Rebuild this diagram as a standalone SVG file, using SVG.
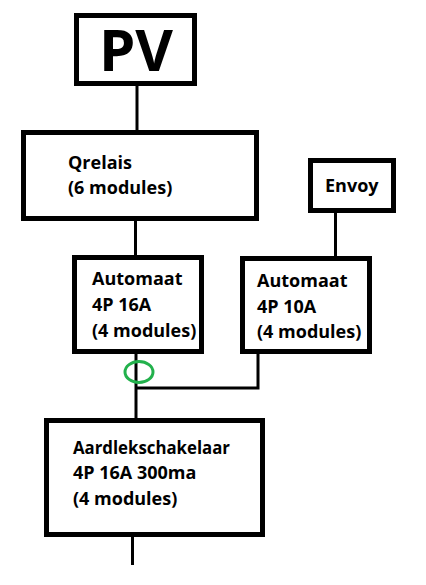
<svg xmlns="http://www.w3.org/2000/svg" width="426" height="585" viewBox="0 0 426 585">
<style>
.box{fill:#fff;stroke:#000;stroke-width:5}
.t{font-family:"Open Sans","Liberation Sans",sans-serif;font-weight:bold;font-size:18px;fill:#000}
.w{fill:none;stroke:#000;stroke-width:3}
</style>
<rect width="426" height="585" fill="#fff"/>
<g id="connectors">
<line class="w" x1="137" y1="86" x2="137" y2="130"/>
<line class="w" x1="135.5" y1="221" x2="135.5" y2="255"/>
<line class="w" x1="335.5" y1="213" x2="335.5" y2="256"/>
<line class="w" x1="136" y1="354" x2="136" y2="418"/>
<polyline class="w" points="258,354 258,388 136,388"/>
<line class="w" x1="132.5" y1="537" x2="132.5" y2="565"/>
<ellipse cx="139" cy="372" rx="14" ry="10.5" fill="none" stroke="#22b14c" stroke-width="3"/>
</g>
<g id="pv">
<rect class="box" x="76.5" y="15.5" width="118" height="68"/>
<text x="136" y="71" text-anchor="middle" style="font-family:'Open Sans','Liberation Sans',sans-serif;font-weight:bold;font-size:58px">PV</text>
</g>
<g id="qrelais">
<rect class="box" x="23.5" y="132.5" width="233" height="86"/>
<text class="t" x="68" y="169">Qrelais</text>
<text class="t" x="68" y="194">(6 modules)</text>
</g>
<g id="envoy">
<rect class="box" x="310.5" y="160.5" width="83" height="50"/>
<text class="t" x="325" y="192">Envoy</text>
</g>
<g id="automaat1">
<rect class="box" x="74.5" y="257.5" width="127" height="94"/>
<text class="t" x="92" y="285">Automaat</text>
<text class="t" x="92" y="311">4P 16A</text>
<text class="t" x="92" y="337">(4 modules)</text>
</g>
<g id="automaat2">
<rect class="box" x="242.5" y="258.5" width="127" height="93"/>
<text class="t" x="257" y="287">Automaat</text>
<text class="t" x="257" y="313">4P 10A</text>
<text class="t" x="257" y="338">(4 modules)</text>
</g>
<g id="aardlek">
<rect class="box" x="46.5" y="420.5" width="216" height="114"/>
<text class="t" x="73" y="454" textLength="157" lengthAdjust="spacingAndGlyphs">Aardlekschakelaar</text>
<text class="t" x="73" y="479">4P 16A 300ma</text>
<text class="t" x="73" y="505">(4 modules)</text>
</g>
</svg>
